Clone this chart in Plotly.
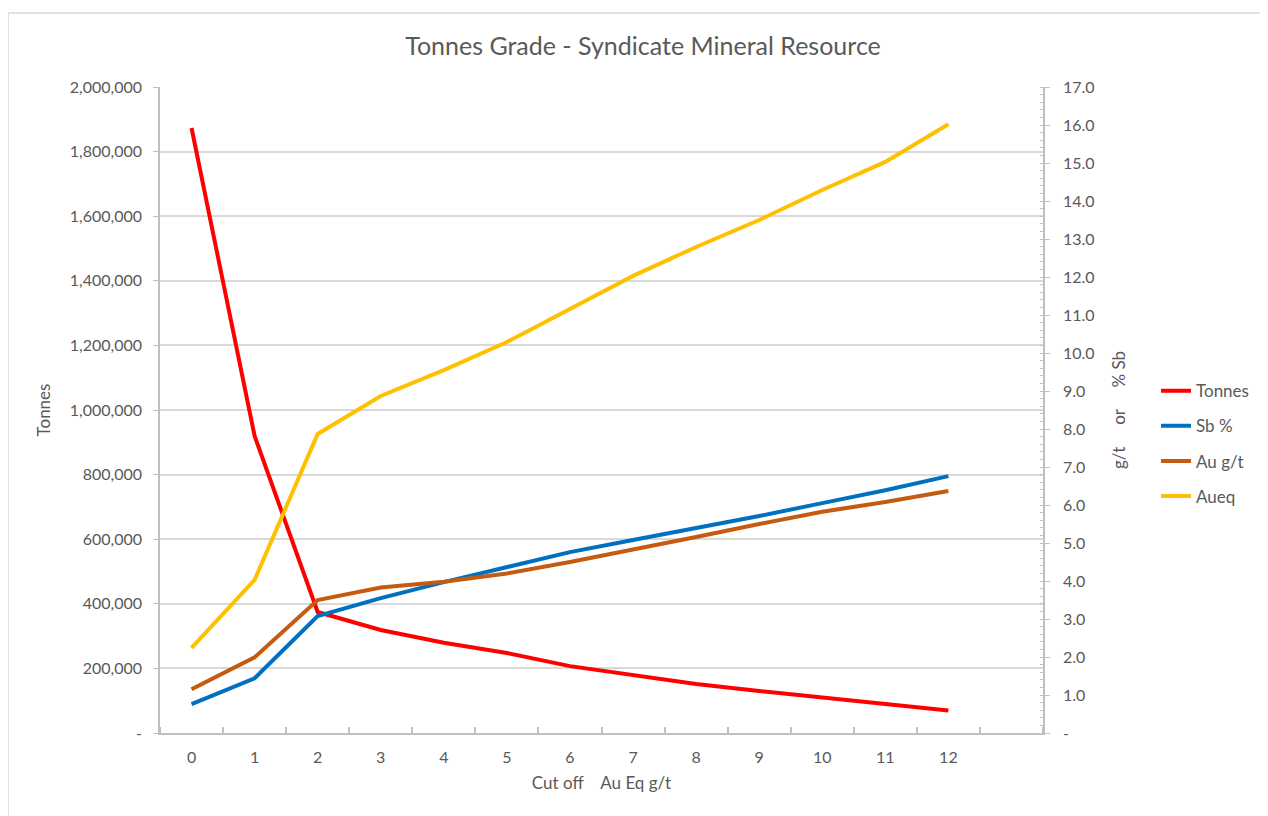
import plotly.graph_objects as go

cutoff = [0, 1, 2, 3, 4, 5, 6, 7, 8, 9, 10, 11, 12]
tonnes = [1873000, 919500, 374600, 319000, 279600, 247700, 207000, 179600, 151700, 130000, 110500, 92000, 70000]
sb_pct = [0.76, 1.44, 3.08, 3.55, 3.97, 4.37, 4.76, 5.08, 5.39, 5.71, 6.05, 6.39, 6.76]
au_gt = [1.15, 1.99, 3.50, 3.83, 3.98, 4.20, 4.50, 4.82, 5.16, 5.50, 5.82, 6.08, 6.37]
aueq = [2.24, 4.03, 7.87, 8.87, 9.55, 10.29, 11.16, 12.03, 12.79, 13.50, 14.29, 15.03, 16.02]

left_tickvals = [0, 200000, 400000, 600000, 800000, 1000000, 1200000, 1400000, 1600000, 1800000, 2000000]
left_ticktext = ["-", "200,000", "400,000", "600,000", "800,000", "1,000,000", "1,200,000",
                 "1,400,000", "1,600,000", "1,800,000", "2,000,000"]
right_tickvals = list(range(0, 18))
right_ticktext = ["-"] + [f"{v:.1f}" for v in range(1, 18)]

FONT = "Lato"
GREY = "#595959"
AXIS = "#bfbfbf"
GRID = "#d9d9d9"

W, H = 1260, 808  # page adds an 8px body margin

fig = go.Figure()
fig.add_trace(go.Scatter(x=cutoff, y=tonnes, name="Tonnes", mode="lines", legendgroup="a",
                         line=dict(color="#FF0000", width=4), yaxis="y"))
fig.add_trace(go.Scatter(x=cutoff, y=sb_pct, name="Sb %", mode="lines", legendgroup="b",
                         line=dict(color="#0070C0", width=4), yaxis="y2"))
fig.add_trace(go.Scatter(x=cutoff, y=au_gt, name="Au g/t", mode="lines", legendgroup="c",
                         line=dict(color="#C55A11", width=4), yaxis="y2"))
fig.add_trace(go.Scatter(x=cutoff, y=aueq, name="Aueq", mode="lines", legendgroup="d",
                         line=dict(color="#FFC000", width=4), yaxis="y2"))

fig.update_layout(
    width=W, height=H,
    margin=dict(l=152, r=225, t=79, b=83),
    paper_bgcolor="white", plot_bgcolor="white",
    font=dict(family=FONT, color=GREY, size=16),
    title=dict(text="Tonnes Grade - Syndicate Mineral Resource", x=635 / W, xanchor="center",
               y=1 - 38 / H, yanchor="middle", font=dict(size=25, color=GREY, family=FONT)),
    showlegend=True,
    legend=dict(x=1.128, xanchor="left", y=0.557, yanchor="top", tracegroupgap=10,
                font=dict(size=17, color=GREY), bgcolor="rgba(0,0,0,0)"),
    xaxis=dict(range=[-0.5, 13.5], tickvals=cutoff, ticktext=[str(c) for c in cutoff],
               showgrid=False, zeroline=False, showline=True, linecolor=AXIS, linewidth=1.5,
               ticks="", ticklabelstandoff=9,
               minor=dict(tick0=0.5, dtick=1, ticks="inside", ticklen=6, tickcolor=AXIS, tickwidth=1.5, showgrid=False),
               title=dict(text="Cut off    Au Eq g/t", standoff=12, font=dict(size=17, color=GREY)),
               tickfont=dict(size=16, color=GREY)),
    yaxis=dict(range=[0, 2000000], tickvals=left_tickvals, ticktext=left_ticktext,
               showgrid=True, gridcolor=GRID, gridwidth=1.5, zeroline=False,
               showline=True, linecolor=AXIS, linewidth=1.5,
               ticks="outside", ticklen=5, tickcolor=AXIS, ticklabelstandoff=8,
               title=dict(text="Tonnes", standoff=15, font=dict(size=17, color=GREY)),
               tickfont=dict(size=16, color=GREY)),
    yaxis2=dict(range=[0, 17], tickvals=right_tickvals, ticktext=right_ticktext,
                overlaying="y", side="right", showgrid=False, zeroline=False,
                showline=True, linecolor=AXIS, linewidth=1.5,
                ticks="outside", ticklen=5, tickcolor=AXIS, ticklabelstandoff=10,
                minor=dict(dtick=0.2, ticks="inside", ticklen=3, tickcolor=AXIS, showgrid=False),
                title=dict(text="g/t     or     % Sb", standoff=20, font=dict(size=17, color=GREY)),
                tickfont=dict(size=16, color=GREY)),
    shapes=[dict(type="rect", xref="paper", yref="paper",
                 x0=(8 - 160) / 883, x1=(1275 - 160) / 883,
                 y0=(733 - 830) / 646, y1=(733 - 13) / 646,
                 line=dict(color=GRID, width=1.5), fillcolor="rgba(0,0,0,0)", layer="below")],
)

fig.write_html("out.html")
